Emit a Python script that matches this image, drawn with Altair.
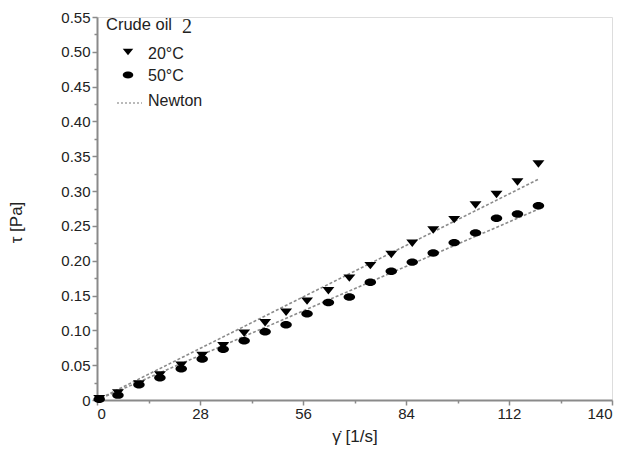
import altair as alt
import pandas as pd

# ---- data ----
shear_rate = [0.6, 5.7, 11.4, 17.1, 22.9, 28.6, 34.3, 40.0, 45.7, 51.4, 57.1,
              62.9, 68.6, 74.3, 80.0, 85.7, 91.4, 97.1, 102.9, 108.6, 114.3, 120.0]
stress_20 = [0.002, 0.010, 0.023, 0.036, 0.050, 0.064, 0.078, 0.096, 0.111, 0.126, 0.142,
             0.157, 0.175, 0.193, 0.209, 0.225, 0.244, 0.259, 0.280, 0.295, 0.313, 0.339]
stress_50 = [0.001, 0.007, 0.022, 0.032, 0.045, 0.059, 0.073, 0.085, 0.098, 0.108, 0.124,
             0.140, 0.148, 0.169, 0.185, 0.198, 0.211, 0.226, 0.240, 0.261, 0.267, 0.279]
newton_x = [0.0, 120.0]
newton_20 = [0.0, 0.317]
newton_50 = [0.0, 0.274]

x_major = [0, 28, 56, 84, 112, 140]
x_minor = [14, 42, 70, 98, 126]
y_major = [0, 0.05, 0.1, 0.15, 0.2, 0.25, 0.3, 0.35, 0.4, 0.45, 0.5, 0.55]
y_minor = [0.025, 0.075, 0.125, 0.175, 0.225, 0.275, 0.325, 0.375, 0.425, 0.475, 0.525]

legend_title = "Crude oil"
legend_title_num = "2"
legend_labels = ["20°C", "50°C", "Newton"]

FONT = "Liberation Sans"
TRI = "M-1,-0.62L1,-0.62L0,0.62Z"
ELL = "M-1,0A1,0.65,0,1,0,1,0A1,0.65,0,1,0,-1,0Z"
AX = "#8a8a8a"

pts = pd.DataFrame({"x": shear_rate, "t20": stress_20, "t50": stress_50})
newt = pd.DataFrame({
    "x": newton_x + newton_x,
    "y": newton_20 + newton_50,
    "s": ["20"] * 2 + ["50"] * 2,
})
one = pd.DataFrame({"k": [0]})

xscale = alt.Scale(domain=[0, 140], nice=False)
yscale = alt.Scale(domain=[0, 0.55], nice=False)

x_axis = alt.Axis(
    values=x_major, grid=False, labelOverlap=False, orient="bottom",
    domainColor=AX, domainWidth=2, tickColor=AX, tickWidth=1.5, tickSize=5,
    labelFont=FONT, labelFontSize=15, labelColor="#222", labelPadding=1,
    titleFont=FONT, titleFontSize=17, titleFontWeight="normal", titleColor="#222",
    titleY=36, titleBaseline="middle",
)
y_axis = alt.Axis(
    values=y_major, grid=False, labelOverlap=False, orient="left",
    labelExpr="datum.value == 0 ? '0' : format(datum.value, '.2f')",
    domainColor=AX, domainWidth=2, tickColor=AX, tickWidth=1.5, tickSize=5,
    labelFont=FONT, labelFontSize=15, labelColor="#222", labelPadding=2,
    titleFont=FONT, titleFontSize=17, titleFontWeight="normal", titleColor="#222",
    titleX=-81, titleY=205, titleAngle=270, titleAlign="center", titleBaseline="middle",
)
x_axis_minor = alt.Axis(
    values=x_minor, grid=False, labels=False, domain=False, orient="bottom",
    tickColor=AX, tickWidth=1.5, tickSize=3,
)
y_axis_minor = alt.Axis(
    values=y_minor, grid=False, labels=False, domain=False, orient="left",
    tickColor=AX, tickWidth=1.5, tickSize=3,
)

lines = alt.Chart(newt).mark_line(
    strokeDash=[3, 2], color="#8c8c8c", strokeWidth=1.6
).encode(
    x=alt.X("x:Q", scale=xscale, axis=x_axis, title="γ̇  [1/s]"),
    y=alt.Y("y:Q", scale=yscale, axis=y_axis, title="τ  [Pa]"),
    detail="s:N",
)

p20 = alt.Chart(pts).mark_point(
    shape=TRI, filled=True, color="black", opacity=1, size=144
).encode(x=alt.X("x:Q", scale=xscale, axis=x_axis_minor, title=None),
         y=alt.Y("t20:Q", scale=yscale, axis=y_axis_minor, title=None))

p50 = alt.Chart(pts).mark_point(
    shape=ELL, filled=True, color="black", opacity=1, size=132
).encode(x=alt.X("x:Q", scale=xscale, axis=None),
         y=alt.Y("t50:Q", scale=yscale, axis=None))

# legend (drawn inside the plot, top-left)
lg_title = alt.Chart(one).mark_text(
    text=legend_title, align="left", baseline="alphabetic", font=FONT, fontSize=16.5, color="#222"
).encode(x=alt.value(9), y=alt.value(13))
lg_num = alt.Chart(one).mark_text(
    text=legend_title_num, align="left", baseline="alphabetic", font="Liberation Serif", fontSize=20, color="#222"
).encode(x=alt.value(85), y=alt.value(16))
lg_tri = alt.Chart(one).mark_point(
    shape=TRI, filled=True, color="black", opacity=1, size=110
).encode(x=alt.value(31), y=alt.value(35))
lg_ell = alt.Chart(one).mark_point(
    shape=ELL, filled=True, color="black", opacity=1, size=110
).encode(x=alt.value(31), y=alt.value(58))
lg_dash = alt.Chart(one).mark_rule(
    strokeDash=[2, 2], color="#777", strokeWidth=1.2
).encode(x=alt.value(20), x2=alt.value(45), y=alt.value(86))
lg_texts = [
    alt.Chart(one).mark_text(
        text=t, align="left", baseline="middle", font=FONT, fontSize=16, color="#222"
    ).encode(x=alt.value(51), y=alt.value(yy))
    for t, yy in zip(legend_labels, [37, 59, 84])
]

chart = alt.layer(
    lines, p20, p50, lg_title, lg_num, lg_tri, lg_ell, lg_dash, *lg_texts
).resolve_axis(
    x="independent", y="independent"
).properties(
    width=515, height=383,
    autosize=alt.AutoSizeParams(type="none"),
    padding={"left": 89, "top": 9, "right": 5, "bottom": 50},
).configure_view(stroke=None).configure(background="white")

chart.save("out.html", embed_options={"renderer": "svg", "actions": False})
